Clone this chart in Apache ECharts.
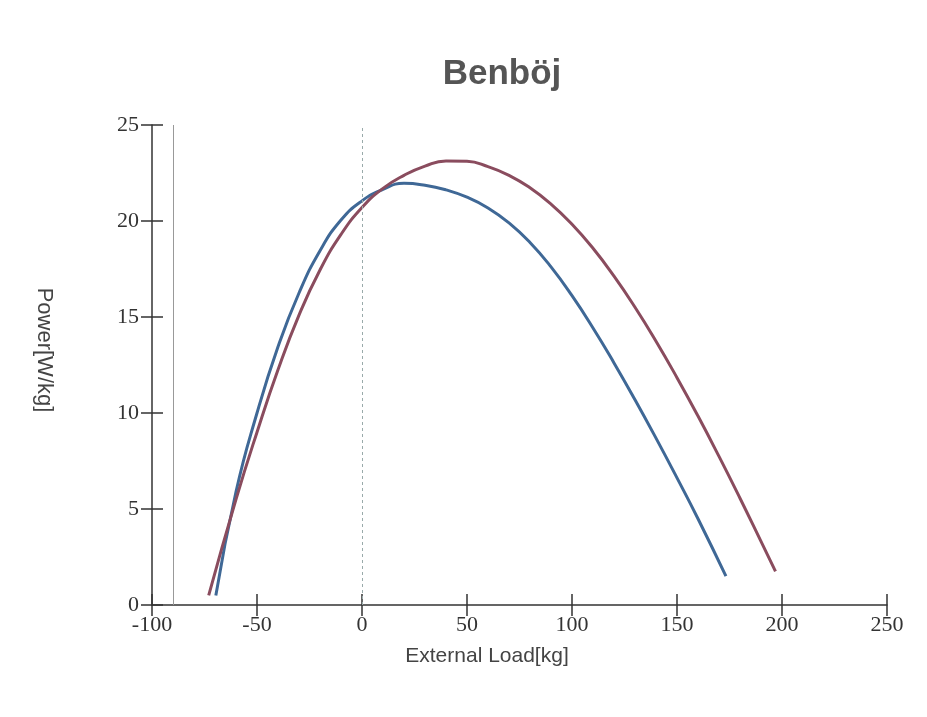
<!DOCTYPE html>
<html>
<head>
<meta charset="utf-8">
<script src="https://cdn.jsdelivr.net/npm/echarts@6/dist/echarts.min.js"></script>
<style>
  html, body { margin: 0; padding: 0; background: #fff; }
  #chart_one { width: 927px; height: 717px; }
</style>
</head>
<body>
<div id="chart_one"></div>
<script>
// values (every 10 kg)
const xTicks = [-100, -50, 0, 50, 100, 150, 200, 250];
const yTicks = [0, 5, 10, 15, 20, 25];

const loadBlue  = [-69.6, -60, -50, -40, -30, -20, -10, 0, 10, 20, 30, 40, 50, 60, 70, 80, 90, 100, 110, 120, 130, 140, 150, 160, 173.3];
const powerBlue = [0.5, 5.9, 10.0, 13.45, 16.25, 18.45, 20.05, 21.05, 21.65, 21.96, 21.86, 21.62, 21.24, 20.68, 19.9, 18.88, 17.61, 16.11, 14.43, 12.61, 10.69, 8.69, 6.62, 4.49, 1.5];

const loadRed  = [-73, -60, -50, -40, -30, -20, -10, 0, 10, 20, 30, 40, 50, 60, 70, 80, 90, 100, 110, 120, 130, 140, 150, 160, 170, 180, 190, 196.9];
const powerRed = [0.5, 5.5, 9.0, 12.25, 15.1, 17.45, 19.3, 20.7, 21.7, 22.38, 22.86, 23.13, 23.11, 22.83, 22.38, 21.73, 20.88, 19.83, 18.58, 17.13, 15.51, 13.74, 11.84, 9.84, 7.74, 5.56, 3.31, 1.75];

const refLines = [-90, 0];

var theDom = document.getElementById('chart_one');
var myChart = echarts.init(theDom);

function pairs(xs, ys) {
  return xs.map((x, i) => [x, ys[i]]);
}

var tickFont = { fontFamily: 'Liberation Serif', fontSize: 22, color: '#333' };
var tickLine = { color: '#333', width: 1.5 };

var option = {
  backgroundColor: '#ffffff',
  animation: false,
  title: {
    text: 'Benböj',
    left: 497,
    top: 52,
    textAlign: 'center',
    textStyle: {
      fontFamily: 'Liberation Sans',
      fontWeight: 'bold',
      fontSize: 35,
      color: '#555'
    }
  },
  graphic: [
    {
      type: 'text',
      x: 487,
      y: 656,
      style: {
        text: 'External Load[kg]',
        font: '21px "Liberation Sans"',
        fill: '#444',
        align: 'center',
        verticalAlign: 'middle'
      }
    },
    {
      type: 'text',
      x: 44,
      y: 350,
      rotation: -Math.PI / 2,
      style: {
        text: 'Power[W/kg]',
        font: '22px "Liberation Sans"',
        fill: '#444',
        align: 'center',
        verticalAlign: 'middle'
      }
    }
  ],
  grid: {
    left: 152,
    right: 40,
    top: 125,
    bottom: 112
  },
  xAxis: [
    {
      type: 'value',
      min: xTicks[0],
      max: xTicks[xTicks.length - 1],
      interval: 50,
      axisLine: { show: true, onZero: false, lineStyle: tickLine },
      axisTick: { show: true, length: 11, lineStyle: tickLine },
      axisLabel: Object.assign({ margin: 9 }, tickFont),
      splitLine: { show: false }
    },
    {
      // second copy only for the inner half of the crossing ticks
      type: 'value',
      position: 'bottom',
      min: xTicks[0],
      max: xTicks[xTicks.length - 1],
      interval: 50,
      axisLine: { show: false, onZero: false },
      axisTick: { show: true, inside: true, length: 11, lineStyle: tickLine },
      axisLabel: { show: false },
      splitLine: { show: false }
    }
  ],
  yAxis: [
    {
      type: 'value',
      min: yTicks[0],
      max: yTicks[yTicks.length - 1],
      interval: 5,
      axisLine: { show: true, onZero: false, lineStyle: tickLine },
      axisTick: { show: true, length: 11, lineStyle: tickLine },
      axisLabel: Object.assign({ margin: 13 }, tickFont),
      splitLine: { show: false }
    },
    {
      type: 'value',
      position: 'left',
      min: yTicks[0],
      max: yTicks[yTicks.length - 1],
      interval: 5,
      axisLine: { show: false, onZero: false },
      axisTick: { show: true, inside: true, length: 11, lineStyle: tickLine },
      axisLabel: { show: false },
      splitLine: { show: false }
    }
  ],
  series: [
    {
      name: 'blue',
      type: 'line',
      xAxisIndex: 0,
      yAxisIndex: 0,
      smooth: 0.5,
      showSymbol: false,
      lineStyle: { color: '#3f6896', width: 3 },
      data: pairs(loadBlue, powerBlue),
      markLine: {
        silent: true,
        symbol: 'none',
        label: { show: false },
        data: [
          { xAxis: refLines[0], lineStyle: { color: '#999', width: 1, type: 'solid' } },
          { xAxis: refLines[1], lineStyle: { color: '#9aa', width: 1, type: [3, 3] } }
        ]
      }
    },
    {
      name: 'red',
      type: 'line',
      xAxisIndex: 0,
      yAxisIndex: 0,
      smooth: 0.5,
      showSymbol: false,
      lineStyle: { color: '#8a4c5e', width: 3 },
      data: pairs(loadRed, powerRed)
    }
  ]
};

myChart.setOption(option);
window.onresize = function () {
  myChart.resize();
};
</script>
</body>
</html>
